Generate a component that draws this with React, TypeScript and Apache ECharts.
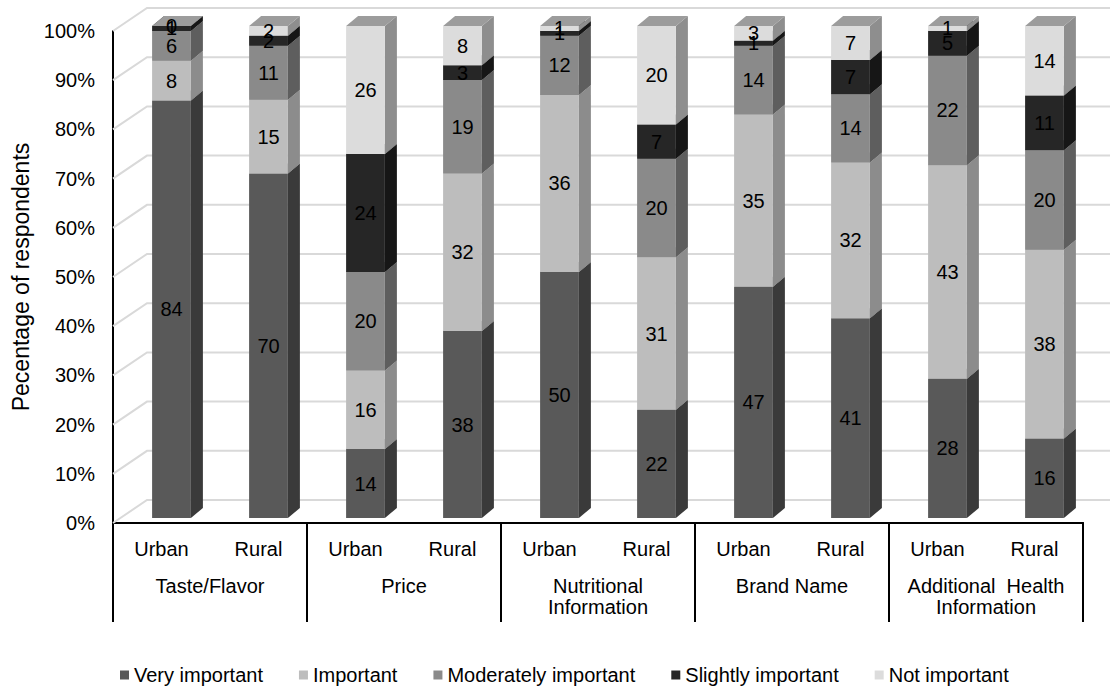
import React, { useEffect, useRef } from "react";
import * as echarts from "echarts";

// Survey: importance of label attributes, urban vs rural respondents
const groups = [
  "Taste/Flavor",
  "Price",
  "Nutritional\nInformation",
  "Brand Name",
  "Additional  Health\nInformation",
];
const areas = ["Urban", "Rural"];
const barLabels = groups.flatMap(() => areas);

const seriesNames = [
  "Very important",
  "Important",
  "Moderately important",
  "Slightly important",
  "Not important",
];
const veryImportant = [84, 70, 14, 38, 50, 22, 47, 41, 28, 16];
const important = [8, 15, 16, 32, 36, 31, 35, 32, 43, 38];
const moderatelyImportant = [6, 11, 20, 19, 12, 20, 14, 14, 22, 20];
const slightlyImportant = [1, 2, 24, 3, 1, 7, 1, 7, 5, 11];
const notImportant = [0, 2, 26, 8, 1, 20, 3, 7, 1, 14];
const seriesValues = [veryImportant, important, moderatelyImportant, slightlyImportant, notImportant];

const yTicks = [0, 10, 20, 30, 40, 50, 60, 70, 80, 90, 100];

// box shading: front face, right side, top
const FRONT = ["#595959", "#bdbdbd", "#8a8a8a", "#262626", "#dcdcdc"];
const SIDE = ["#3a3a3a", "#8c8c8c", "#5e5e5e", "#161616", "#8e8e8e"];
const TOP = ["#6c6c6c", "#a6a6a6", "#7a7a7a", "#3a3a3a", "#9c9c9c"];

const FONT = "Liberation Sans, Arial, sans-serif";
const FS = 20;
const BAR_DX = 12;
const BAR_DY = -10;
const WALL_DX = 34;
const WALL_DY = -23;
const FRONT_SHIFT_X = 10;
const FRONT_SHIFT_Y = -5;

// 100% stacking: each bar normalised by its own total
const totals = barLabels.map((_, i) => seriesValues.reduce((s, arr) => s + arr[i], 0));
const stacked = seriesValues.map((arr, k) =>
  arr.map((v, i) => {
    let lo = 0;
    for (let j = 0; j < k; j++) lo += seriesValues[j][i];
    const t = totals[i];
    return [i, (lo / t) * 100, ((lo + v) / t) * 100, v];
  })
);

function boxGeometry(api: any, lo: number, hi: number, cat: number) {
  const a = api.coord([cat, lo]);
  const b = api.coord([cat, hi]);
  const bw = api.size([1, 0])[0] * 0.4;
  const cx = a[0] + FRONT_SHIFT_X;
  return {
    cx,
    x0: cx - bw / 2,
    x1: cx + bw / 2,
    bw,
    yb: a[1] + FRONT_SHIFT_Y,
    yt: b[1] + FRONT_SHIFT_Y,
  };
}

function segmentRenderer(k: number) {
  return (params: any, api: any) => {
    const g = boxGeometry(api, api.value(1), api.value(2), api.value(0));
    const { x0, x1, yb, yt, bw } = g;
    return {
      type: "group",
      children: [
        {
          type: "polygon",
          shape: { points: [[x1, yb], [x1 + BAR_DX, yb + BAR_DY], [x1 + BAR_DX, yt + BAR_DY], [x1, yt]] },
          style: { fill: SIDE[k] },
        },
        {
          type: "rect",
          shape: { x: x0, y: yt, width: bw, height: Math.max(0, yb - yt) },
          style: { fill: FRONT[k] },
        },
        {
          type: "polygon",
          shape: { points: [[x0, yt], [x1, yt], [x1 + BAR_DX, yt + BAR_DY], [x0 + BAR_DX, yt + BAR_DY]] },
          style: { fill: TOP[k] },
        },
      ],
    };
  };
}

const labelData = stacked.flatMap((s) => s.map((d) => [d[0], (d[1] + d[2]) / 2, d[3]]));

export default function App() {
  const ref = useRef<HTMLDivElement>(null);

  useEffect(() => {
    if (!ref.current) return;
    const chart = echarts.init(ref.current, undefined, { renderer: "svg" });

    const segmentSeries = seriesNames.map((name, k) => ({
      name,
      type: "custom",
      xAxisIndex: 0,
      yAxisIndex: 0,
      z: 3,
      itemStyle: { color: FRONT[k] },
      encode: { x: 0, y: [1, 2] },
      renderItem: segmentRenderer(k),
      data: stacked[k],
    }));

    chart.setOption({
      animation: false,
      textStyle: { fontFamily: FONT },
      grid: { left: 113, top: 31, width: 970, height: 492 },
      legend: {
        data: seriesNames.map((n) => ({ name: n, icon: "rect" })),
        left: 120,
        top: 665,
        padding: 0,
        itemWidth: 9,
        itemHeight: 9,
        itemGap: 36,
        textStyle: { fontSize: 20, color: "#000", fontFamily: FONT },
      },
      xAxis: [
        {
          type: "category",
          data: barLabels,
          position: "bottom",
          axisLine: { show: true, lineStyle: { color: "#000", width: 2 } },
          axisTick: { show: false },
          axisLabel: { interval: 0, margin: 15, fontSize: FS, color: "#000", lineHeight: 22 },
        },
        {
          type: "category",
          data: groups,
          position: "bottom",
          offset: 0,
          axisLine: { show: true, lineStyle: { color: "#000", width: 2 } },
          axisTick: { show: true, length: 99, lineStyle: { color: "#000", width: 2 } },
          axisLabel: { interval: 0, margin: 52, fontSize: FS, color: "#000", lineHeight: 21 },
        },
      ],
      yAxis: {
        type: "value",
        min: 0,
        max: 100,
        interval: 10,
        name: "Pecentage of respondents",
        nameLocation: "middle",
        nameGap: 79,
        nameTextStyle: { fontSize: 23, color: "#000", fontFamily: FONT },
        axisLine: { show: true, lineStyle: { color: "#000", width: 2 } },
        axisTick: { show: false },
        splitLine: { show: false },
        axisLabel: { formatter: "{value}%", fontSize: FS, color: "#000", margin: 18 },
      },
      series: [
        {
          name: "walls",
          type: "custom",
          xAxisIndex: 0,
          yAxisIndex: 0,
          z: 1,
          silent: true,
          encode: { x: 0, y: 1 },
          data: yTicks.map((v) => [0, v]),
          renderItem: (params: any, api: any) => {
            const cs = params.coordSys;
            const y = api.coord([0, api.value(1)])[1];
            const x0 = cs.x;
            return {
              type: "polyline",
              shape: {
                points: [
                  [x0, y],
                  [x0 + WALL_DX, y + WALL_DY],
                  [x0 + cs.width + WALL_DX, y + WALL_DY],
                ],
              },
              style: { stroke: "#d9d9d9", lineWidth: 2, fill: "none" },
            };
          },
        },
        ...segmentSeries,
        {
          name: "values",
          type: "custom",
          xAxisIndex: 0,
          yAxisIndex: 0,
          z: 10,
          silent: true,
          encode: { x: 0, y: 1 },
          data: labelData,
          renderItem: (params: any, api: any) => {
            const cat = api.value(0);
            const p = api.coord([cat, api.value(1)]);
            return {
              type: "text",
              x: p[0] + FRONT_SHIFT_X,
              y: p[1] + FRONT_SHIFT_Y,
              style: {
                text: String(api.value(2)),
                fill: "#000",
                fontSize: FS,
                fontFamily: FONT,
                align: "center",
                verticalAlign: "middle",
              },
            };
          },
        },
      ],
    });

    return () => chart.dispose();
  }, []);

  return (
    <div
      ref={ref}
      style={{ position: "absolute", left: 0, top: 0, width: 1110, height: 688, background: "#fff" }}
    />
  );
}
